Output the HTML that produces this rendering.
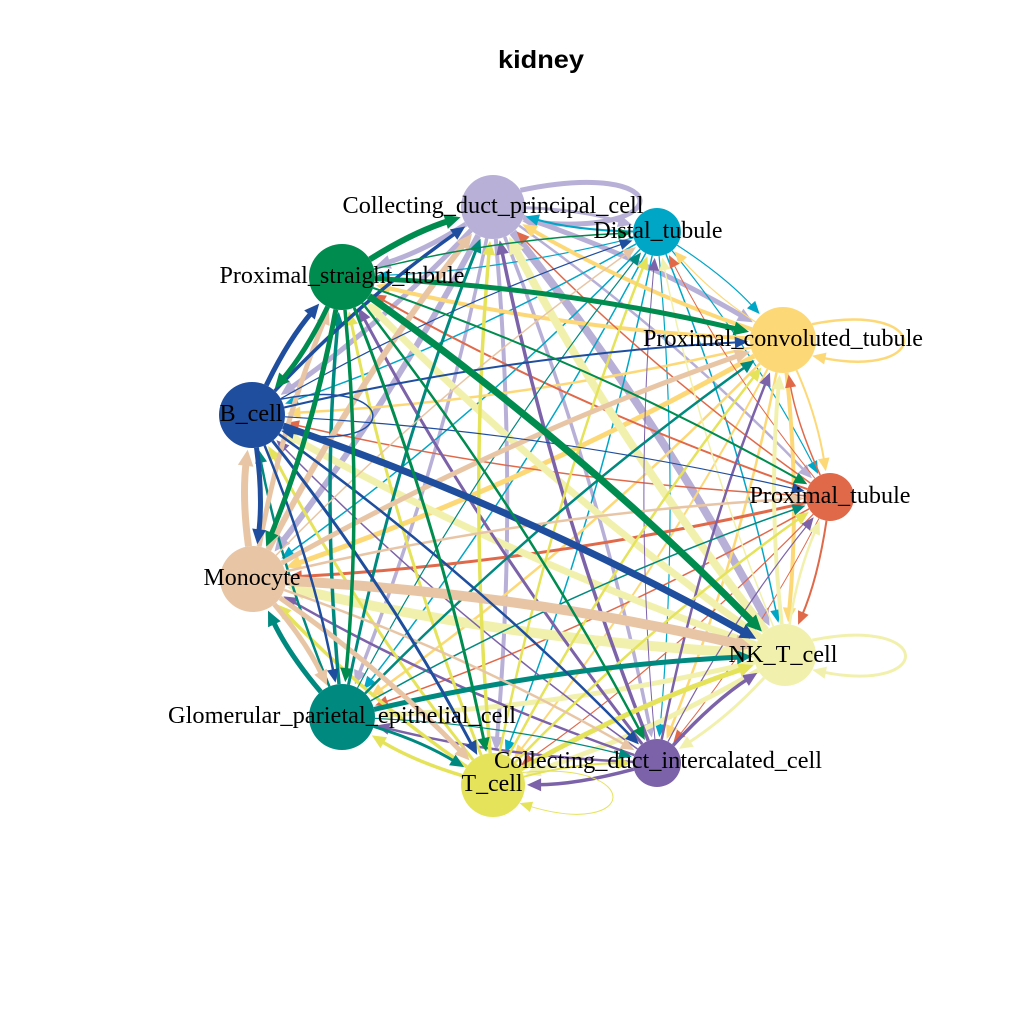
<!DOCTYPE html>
<html><head><meta charset="utf-8"><style>
html,body{margin:0;padding:0;background:#fff;}
svg{display:block;}
.lab{font-family:"Liberation Serif",serif;font-size:24px;fill:#000;}
.title{font-family:"Liberation Sans",sans-serif;font-weight:bold;font-size:25px;fill:#000;}
</style></head><body>
<svg id="s" width="1024" height="1024" viewBox="0 0 1024 1024" xmlns="http://www.w3.org/2000/svg">
<rect width="1024" height="1024" fill="#fff"/>
<text class="title" x="541" y="68" text-anchor="middle" textLength="86" lengthAdjust="spacingAndGlyphs">kidney</text>
<g id="edges"></g>
<g id="nodes"></g>
<g id="labels">
<text class="lab" x="493" y="213" text-anchor="middle" textLength="301" lengthAdjust="spacingAndGlyphs">Collecting_duct_principal_cell</text>
<text class="lab" x="658" y="238" text-anchor="middle" textLength="129" lengthAdjust="spacingAndGlyphs">Distal_tubule</text>
<text class="lab" x="342" y="283" text-anchor="middle" textLength="245" lengthAdjust="spacingAndGlyphs">Proximal_straight_tubule</text>
<text class="lab" x="783" y="346" text-anchor="middle" textLength="280" lengthAdjust="spacingAndGlyphs">Proximal_convoluted_tubule</text>
<text class="lab" x="251" y="421" text-anchor="middle" textLength="63" lengthAdjust="spacingAndGlyphs">B_cell</text>
<text class="lab" x="830" y="503" text-anchor="middle" textLength="161" lengthAdjust="spacingAndGlyphs">Proximal_tubule</text>
<text class="lab" x="252" y="585" text-anchor="middle" textLength="97" lengthAdjust="spacingAndGlyphs">Monocyte</text>
<text class="lab" x="783" y="662" text-anchor="middle" textLength="109" lengthAdjust="spacingAndGlyphs">NK_T_cell</text>
<text class="lab" x="342" y="723" text-anchor="middle" textLength="348" lengthAdjust="spacingAndGlyphs">Glomerular_parietal_epithelial_cell</text>
<text class="lab" x="658" y="768" text-anchor="middle" textLength="328" lengthAdjust="spacingAndGlyphs">Collecting_duct_intercalated_cell</text>
<text class="lab" x="492" y="791" text-anchor="middle" textLength="61" lengthAdjust="spacingAndGlyphs">T_cell</text>
</g>
</svg>
<script>
(function(){
var N=[
[493,207,32,'#B8B0D7'],
[657,232,24,'#00A6C6'],
[783,340,33,'#FDD877'],
[830,497,24,'#E0694A'],
[785,655,31,'#F1F1AD'],
[657,763,24,'#7C62A9'],
[493,785,32,'#E5E35A'],
[342,717,33,'#00897F'],
[253,579,33,'#E8C6A5'],
[252,415,33,'#1F4E9E'],
[342,277,33,'#008B4F']
];
var W=[
[5,3,5,2.5,8,3.5,4,3.5,6,5,5],
[2,0,1.2,1.2,1.5,1.2,1.5,1.5,1.5,1.5,1.2],
[4,1.2,2.5,2,4,2.5,2,2.5,5,2.5,4],
[1.5,1,1.5,0,2,1,1.2,1.5,3,1.5,2],
[8,1.5,4,2.5,3,3,5,5,10,7,7],
[3.5,1,2.5,1.2,3.5,0,3.5,2.5,2.5,1.5,3],
[3.5,2.5,2.5,2.5,5,2,1,3.5,3.5,3,3],
[3,1.2,2.5,1.5,5,1.2,3,0,5,2.5,3.5],
[6,1.5,5,2.5,10,2.5,5,5,0,7,5],
[3.5,1.2,2,1.2,7,2.5,3,2.5,5,1.5,5],
[6,1.5,5,2,7,2.5,3,3.5,5,5,0]
];
var loopAng={0:-0.05,2:0,4:0,6:0.1,9:0};
var loopLen={0:185,2:150,4:150,6:150,9:150};
var out='',gap=2;
function f(v){return v.toFixed(1);}
function arrow(px,py,dx,dy,w,col){
  var aL=12+0.6*w,aW=5+0.4*w;
  var bx=px-aL*dx,by=py-aL*dy;
  return '<polygon points="'+f(px)+','+f(py)+' '+f(bx-aW*dy)+','+f(by+aW*dx)+' '+f(bx+aW*dy)+','+f(by-aW*dx)+'" fill="'+col+'"/>';
}
for(var s=0;s<11;s++){
  for(var t=0;t<11;t++){
    var w=W[s][t]; if(!w) continue;
    var S=N[s],T=N[t],col=S[3];
    if(s===t){
      if(loopAng[s]===undefined) continue;
      var th=loopAng[s],L=loopLen[s],r=S[2];
      var ux=Math.cos(th),uy=Math.sin(th),px=-uy,py=ux;
      var x0=S[0]+r*(0.88*ux-0.48*px),y0=S[1]+r*(0.88*uy-0.48*py);
      var x3=S[0]+r*(0.88*ux+0.48*px),y3=S[1]+r*(0.88*uy+0.48*py);
      var c1x=S[0]+L*ux-40*px,c1y=S[1]+L*uy-40*py;
      var c2x=S[0]+L*ux+40*px,c2y=S[1]+L*uy+40*py;
      var ddx=x3-c2x,ddy=y3-c2y,dl=Math.hypot(ddx,ddy);ddx/=dl;ddy/=dl;
      var aL=12+0.6*w;
      var ex=x3-aL*0.7*ddx,ey=y3-aL*0.7*ddy;
      out+='<path d="M'+f(x0)+','+f(y0)+' C'+f(c1x)+','+f(c1y)+' '+f(c2x)+','+f(c2y)+' '+f(ex)+','+f(ey)+'" fill="none" stroke="'+col+'" stroke-width="'+w+'"/>';
      out+=arrow(x3,y3,ddx,ddy,w,col);
      continue;
    }
    var dx=T[0]-S[0],dy=T[1]-S[1],len=Math.hypot(dx,dy);
    var off=0.035*len+5;
    var mx=(S[0]+T[0])/2+off*dy/len,my=(S[1]+T[1])/2-off*dx/len;
    var ax=mx-S[0],ay=my-S[1],al=Math.hypot(ax,ay);
    var p0x=S[0]+S[2]*ax/al,p0y=S[1]+S[2]*ay/al;
    var vx=T[0]-mx,vy=T[1]-my,vl=Math.hypot(vx,vy);vx/=vl;vy/=vl;
    var p2x=T[0]-(T[2]+gap)*vx,p2y=T[1]-(T[2]+gap)*vy;
    var aL2=12+0.6*w;
    var ex2=p2x-aL2*0.7*vx,ey2=p2y-aL2*0.7*vy;
    out+='<path d="M'+f(p0x)+','+f(p0y)+' Q'+f(mx)+','+f(my)+' '+f(ex2)+','+f(ey2)+'" fill="none" stroke="'+col+'" stroke-width="'+w+'"/>';
    out+=arrow(p2x,p2y,vx,vy,w,col);
  }
}
document.getElementById('edges').innerHTML=out;
var nd='';
for(var i=0;i<11;i++){nd+='<circle cx="'+N[i][0]+'" cy="'+N[i][1]+'" r="'+N[i][2]+'" fill="'+N[i][3]+'"/>';}
document.getElementById('nodes').innerHTML=nd;
})();
</script>
</body></html>
